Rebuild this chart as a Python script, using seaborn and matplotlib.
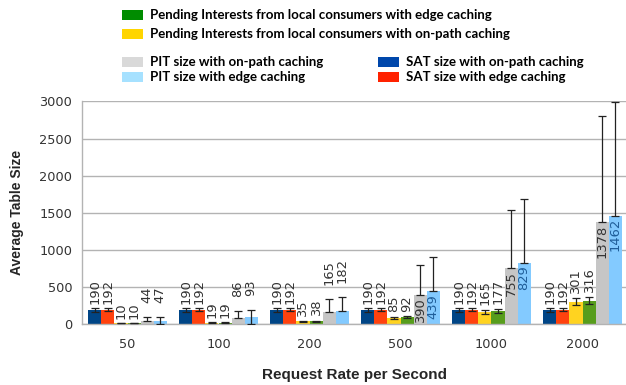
import numpy as np
import pandas as pd
import seaborn as sns
import matplotlib
matplotlib.use("Agg")
import matplotlib.pyplot as plt
from matplotlib.patches import Rectangle

# ---------------- data ----------------
categories = ["50", "100", "200", "500", "1000", "2000"]
series = [
    "SAT size with on-path caching",
    "SAT size with edge caching",
    "Pending Interests from local consumers with on-path caching",
    "Pending Interests from local consumers with edge caching",
    "PIT size with on-path caching",
    "PIT size with edge caching",
]
sat_onpath = [190, 190, 190, 190, 190, 190]
sat_edge = [192, 192, 192, 192, 192, 192]
pi_onpath = [10, 19, 35, 85, 165, 301]
pi_edge = [10, 19, 38, 92, 177, 316]
pit_onpath = [44, 86, 165, 390, 755, 1378]
pit_edge = [47, 93, 182, 439, 829, 1462]

err_sat_onpath = [22, 22, 22, 22, 22, 22]
err_sat_edge = [22, 22, 22, 22, 22, 22]
err_pi_onpath = [3, 5, 8, 15, 30, 45]
err_pi_edge = [3, 5, 8, 15, 30, 50]
err_pit_onpath = [46, 89, 167, 403, 778, 1423]
err_pit_edge = [43, 91, 185, 458, 861, 1530]

values = [sat_onpath, sat_edge, pi_onpath, pi_edge, pit_onpath, pit_edge]
errors = [err_sat_onpath, err_sat_edge, err_pi_onpath, err_pi_edge,
          err_pit_onpath, err_pit_edge]

bar_colors = ["#004586", "#ff420e", "#ffd320", "#579d1c", "#c6c6c6", "#83caff"]
legend_colors = {
    series[3]: "#008c00",
    series[2]: "#ffd500",
    series[4]: "#d9d9d9",
    series[5]: "#a6e1ff",
    series[0]: "#0047ab",
    series[1]: "#ff2200",
}

df = pd.DataFrame({
    "rate": np.repeat([categories], len(series), axis=0).ravel(),
    "series": np.repeat(series, len(categories)),
    "value": np.concatenate(values),
})

# ---------------- figure ----------------
sns.set_style("white")
plt.rcParams["font.family"] = ["DejaVu Sans"]
fig = plt.figure(figsize=(6.26, 3.85), dpi=100)
W, H = 626, 385
ax = fig.add_axes([82 / W, 1 - 324 / H, 546 / W, (324 - 101.5) / H])

sns.barplot(data=df, x="rate", y="value", hue="series", order=categories,
            hue_order=series, palette=bar_colors, errorbar=None, width=0.86,
            saturation=1, linewidth=0, legend=False, ax=ax)

ax.set_ylim(0, 3000)
ax.set_xlim(-0.5, 5.5)
ax.set_yticks(np.arange(0, 3001, 500))
ax.yaxis.grid(True, color="#b3b3b3", linewidth=1)
ax.set_axisbelow(True)
for s in ["top", "right"]:
    ax.spines[s].set_visible(False)
for s in ["left", "bottom"]:
    ax.spines[s].set_color("#b3b3b3")
    ax.spines[s].set_linewidth(1)

ax.tick_params(axis="y", length=4, color="#b3b3b3", labelsize=9.3,
               labelcolor="#333333", pad=3)
ax.tick_params(axis="x", which="major", length=0, labelsize=9.3,
               labelcolor="#333333", pad=10)
ax.set_xticks(np.arange(-0.5, 5.6, 1), minor=True)
ax.tick_params(axis="x", which="minor", length=5, color="#b3b3b3")

ax.set_xlabel("Request Rate per Second", family="Liberation Sans",
              fontweight="bold", fontsize=11, labelpad=12)
ax.set_ylabel("Average Table Size", family="Liberation Sans",
              fontweight="bold", fontsize=10, labelpad=11)

# error bars + data labels
bar_containers = list(ax.containers)
for si, cont in enumerate(bar_containers):
    xs = np.array([p.get_x() + p.get_width() / 2 for p in cont.patches])
    hs = np.array([p.get_height() for p in cont.patches])
    er = np.array(errors[si], dtype=float)
    lower = np.where(er < hs, er, 0)
    ax.errorbar(xs, hs, yerr=[lower, er], fmt="none", ecolor="#222222",
                elinewidth=0.9, capsize=3.2, capthick=0.9, zorder=3)
    for x, h, e in zip(xs, hs, er):
        px_h = h / 3000 * 222.5
        if si >= 4 and px_h > 25:
            col = "#333333" if si == 4 else "#1f5d99"
            ax.annotate(f"{int(h)}", (x, h), xytext=(0, -2),
                        textcoords="offset points", rotation=90,
                        ha="center", va="top", fontsize=9.4, color=col,
                        zorder=4)
        else:
            off = 10 if si >= 4 else 3
            ax.annotate(f"{int(h)}", (x, h + e), xytext=(0, off),
                        textcoords="offset points", rotation=90,
                        ha="center", va="bottom", fontsize=9.4,
                        color="#333333", zorder=4)

# ---------------- legend (drawn in figure pixels) ----------------
legend_entries = [
    (series[3], 121.5, 15.3),
    (series[2], 121.5, 34.3),
    (series[4], 121.5, 61.7),
    (series[5], 121.5, 77.3),
    (series[0], 377.5, 61.7),
    (series[1], 377.5, 77.3),
]
for name, px, py in legend_entries:
    fig.add_artist(Rectangle((px / W, 1 - (py + 5) / H), 21 / W, 10 / H,
                             transform=fig.transFigure,
                             facecolor=legend_colors[name], edgecolor="none"))
    fig.text((px + 28.5) / W, 1 - py / H, name, family="Lato",
             fontweight="bold", fontsize=9.5, va="center", ha="left",
             color="#000000")

fig.savefig("out.png", dpi=100)
